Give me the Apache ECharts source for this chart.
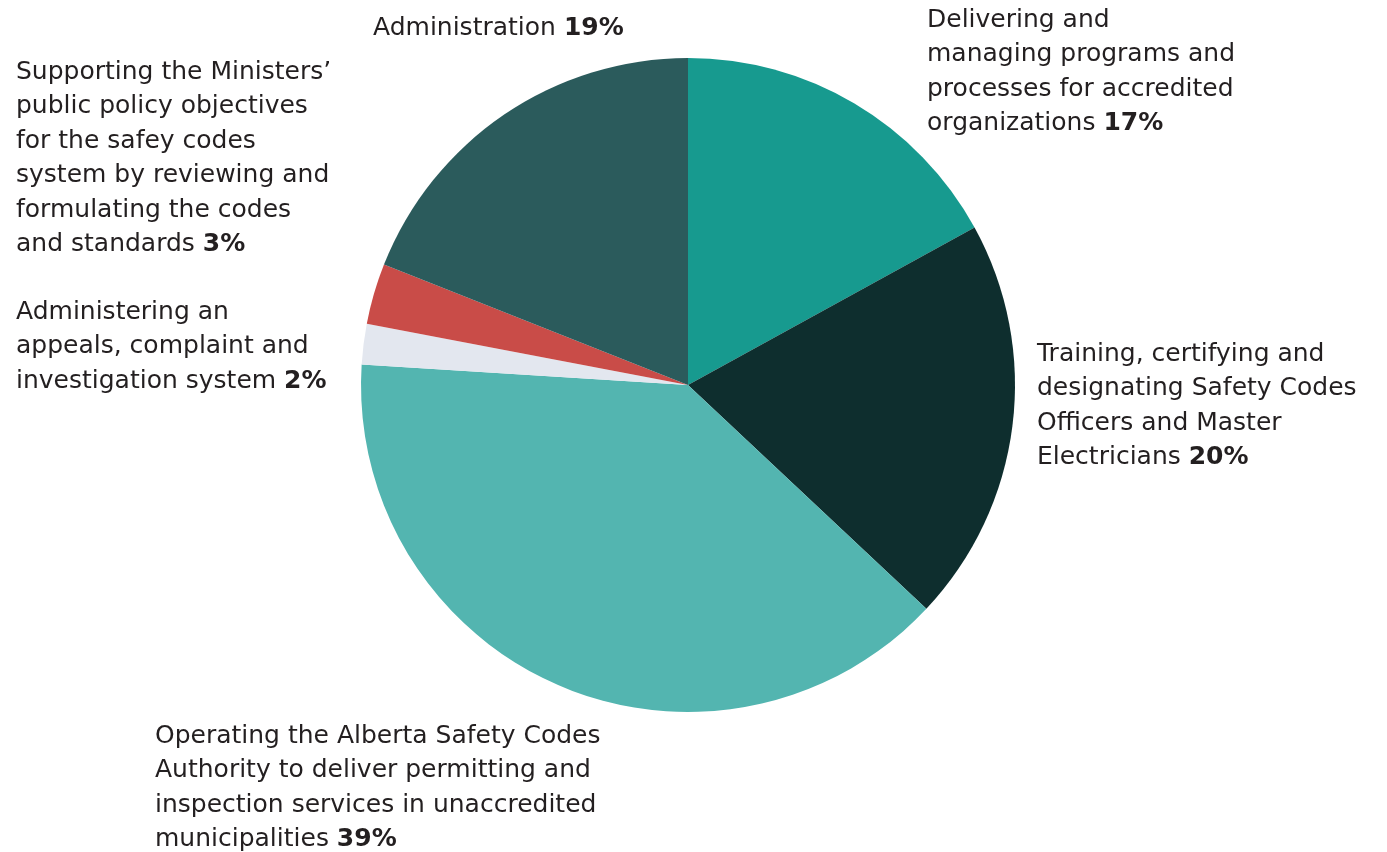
<!DOCTYPE html>
<html><head><meta charset="utf-8">
<script src="https://cdn.jsdelivr.net/npm/echarts@6/dist/echarts.min.js"></script>
<style>html,body{margin:0;padding:0;background:#fff}#c{width:1387px;height:852px}</style>
</head><body><div id="c"></div>
<script>
const categories = [
  "Delivering and\nmanaging programs and\nprocesses for accredited\norganizations",
  "Training, certifying and\ndesignating Safety Codes\nOfficers and Master\nElectricians",
  "Operating the Alberta Safety Codes\nAuthority to deliver permitting and\ninspection services in unaccredited\nmunicipalities",
  "Administering an\nappeals, complaint and\ninvestigation system",
  "Supporting the Ministers’\npublic policy objectives\nfor the safey codes\nsystem by reviewing and\nformulating the codes\nand standards",
  "Administration"
];
const values = [17, 20, 39, 2, 3, 19];
const colors = ["#179a8f", "#0e2e2e", "#53b5b0", "#e3e7ef", "#c94c48", "#2b5b5c"];
const labelPos = [[927, 3], [1037, 337], [155, 719], [16, 295], [16, 55], [373, 11]];

const chart = echarts.init(document.getElementById('c'));
chart.setOption({
  animation: false,
  series: [{
    type: 'pie',
    center: [688, 385],
    radius: [0, 327],
    startAngle: 90,
    clockwise: true,
    data: categories.map((n, i) => ({ name: n, value: values[i], itemStyle: { color: colors[i] } })),
    label: {
      show: true,
      position: 'outside',
      overflow: 'none',
      edgeDistance: 0,
      color: '#231f20',
      fontFamily: 'DejaVu Sans',
      fontSize: 25,
      lineHeight: 34.5,
      formatter: p => p.name + ' {b|' + p.value + '%}',
      rich: { b: { fontWeight: 'bold', fontSize: 25, lineHeight: 34.5, color: '#231f20', fontFamily: 'DejaVu Sans' } }
    },
    labelLine: { show: false },
    labelLayout: p => ({ x: labelPos[p.dataIndex][0], y: labelPos[p.dataIndex][1], align: 'left', verticalAlign: 'top' })
  }]
});
</script></body></html>
